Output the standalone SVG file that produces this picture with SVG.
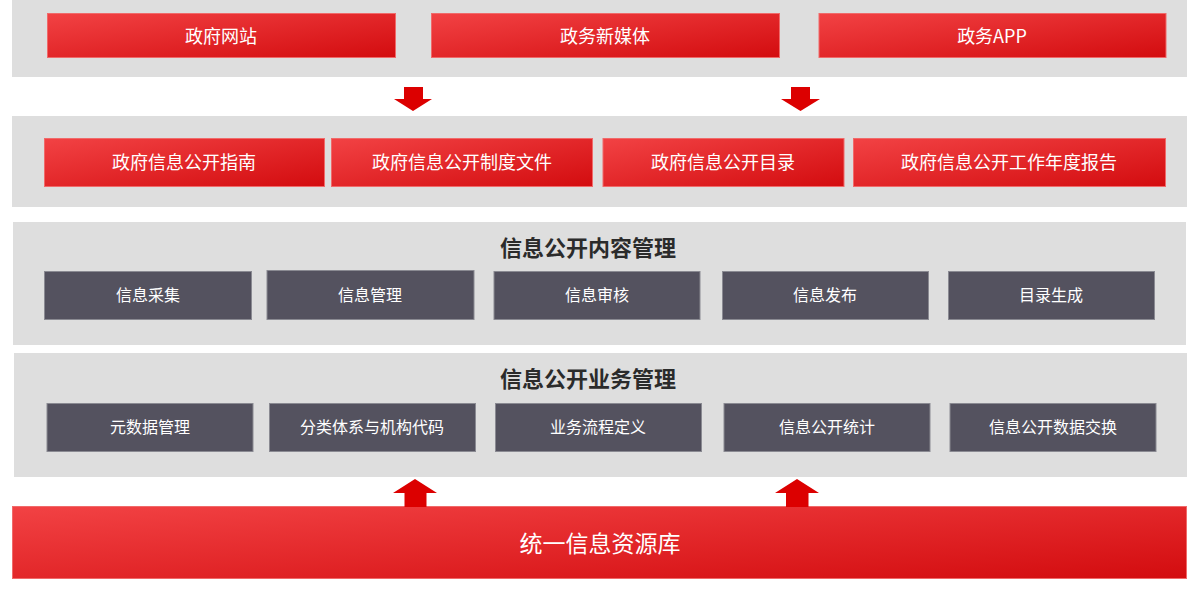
<svg xmlns="http://www.w3.org/2000/svg" width="1200" height="594" viewBox="0 0 1200 594">
<defs>
<linearGradient id="red" x1="0" y1="0" x2="1" y2="1">
<stop offset="0" stop-color="#f24244"/>
<stop offset="1" stop-color="#d30c0f"/>
</linearGradient>
<style>
.panel{fill:#dedede}
.red{fill:url(#red);stroke:#f06a6a;stroke-width:1}
.dark{fill:#54525f;stroke:#8a8a92;stroke-width:1}
.t{font-family:"Noto Sans CJK SC","Liberation Sans",sans-serif;fill:#fff;text-anchor:middle;dominant-baseline:central}
.rt{font-size:18px}
.dt{font-size:16px}
.h{font-family:"Noto Sans CJK SC","Liberation Sans",sans-serif;fill:#2b2b2b;font-size:22px;font-weight:bold;text-anchor:middle;dominant-baseline:central}
.arr{fill:#dc0000}
</style>
</defs>
<rect width="1200" height="594" fill="#fff"/>
<g id="panel-channels">
<rect class="panel" x="12" y="0" width="1175" height="77"/>
</g>
<g id="node-website"><rect class="red" x="47.5" y="13.5" width="348" height="44"/><text class="t rt" x="221" y="34.5">政府网站</text></g>
<g id="node-newmedia"><rect class="red" x="431.5" y="13.5" width="348" height="44"/><text class="t rt" x="605" y="34.5">政务新媒体</text></g>
<g id="node-app"><rect class="red" x="819" y="13.5" width="347" height="44"/><text class="t rt" x="992" y="34.5">政务APP</text></g>

<g id="panel-publish">
<rect class="panel" x="12" y="116" width="1175" height="91"/>
</g>
<g id="node-guide"><rect class="red" x="44.5" y="138.5" width="280" height="48"/><text class="t rt" x="184" y="161">政府信息公开指南</text></g>
<g id="node-rules"><rect class="red" x="331.5" y="138.5" width="261" height="48"/><text class="t rt" x="462" y="161">政府信息公开制度文件</text></g>
<g id="node-catalog"><rect class="red" x="603" y="138.5" width="241" height="48"/><text class="t rt" x="723" y="161">政府信息公开目录</text></g>
<g id="node-report"><rect class="red" x="853.5" y="138.5" width="312" height="48"/><text class="t rt" x="1009" y="161">政府信息公开工作年度报告</text></g>

<g id="panel-content">
<rect class="panel" x="13" y="222" width="1173" height="123"/>
<text class="h" x="588" y="246">信息公开内容管理</text>
</g>
<g id="node-collect"><rect class="dark" x="44.5" y="271.5" width="207" height="48"/><text class="t dt" x="148" y="294">信息采集</text></g>
<g id="node-manage"><rect class="dark" x="267" y="270.5" width="207" height="49"/><text class="t dt" x="370" y="294">信息管理</text></g>
<g id="node-review"><rect class="dark" x="494" y="271.5" width="206" height="48"/><text class="t dt" x="597" y="294">信息审核</text></g>
<g id="node-release"><rect class="dark" x="722.5" y="271.5" width="206" height="48"/><text class="t dt" x="825" y="294">信息发布</text></g>
<g id="node-dir"><rect class="dark" x="948.5" y="271.5" width="206" height="48"/><text class="t dt" x="1051" y="294">目录生成</text></g>

<g id="panel-business">
<rect class="panel" x="14" y="353" width="1173" height="124"/>
<text class="h" x="588" y="377">信息公开业务管理</text>
</g>
<g id="node-meta"><rect class="dark" x="47" y="403.5" width="206" height="48"/><text class="t dt" x="150" y="426">元数据管理</text></g>
<g id="node-class"><rect class="dark" x="269.5" y="403.5" width="206" height="48"/><text class="t dt" x="372" y="426">分类体系与机构代码</text></g>
<g id="node-flow"><rect class="dark" x="495.5" y="403.5" width="206" height="48"/><text class="t dt" x="598" y="426">业务流程定义</text></g>
<g id="node-stat"><rect class="dark" x="724" y="403.5" width="206" height="48"/><text class="t dt" x="827" y="426">信息公开统计</text></g>
<g id="node-exchange"><rect class="dark" x="950" y="403.5" width="206" height="48"/><text class="t dt" x="1053" y="426">信息公开数据交换</text></g>

<g id="node-db"><rect class="red" x="12.5" y="506.5" width="1174" height="72"/><text class="t" x="600" y="542" font-size="23">统一信息资源库</text></g>

<g id="connectors">
<polygon class="arr" points="404,87 423,87 423,99 432,99 413,111 394,99 404,99"/>
<polygon class="arr" points="791,87 810,87 810,99 820,99 800.5,111 781,99 791,99"/>
<polygon class="arr" points="415,479 437,493 426.5,493 426.5,507 404.5,507 404.5,493 393,493"/>
<polygon class="arr" points="797,479 819,493 808.5,493 808.5,507 786,507 786,493 775,493"/>
</g>
</svg>
